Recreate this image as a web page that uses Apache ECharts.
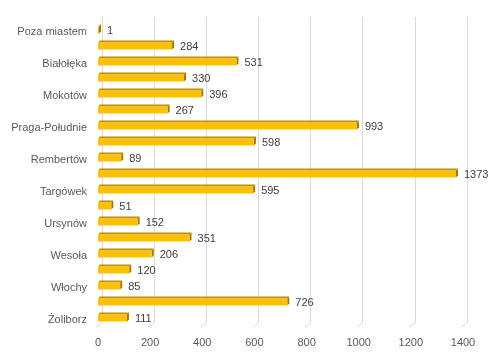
<!DOCTYPE html>
<html><head><meta charset="utf-8">
<script src="https://cdn.jsdelivr.net/npm/echarts@6/dist/echarts.min.js"></script>
<style>html,body{margin:0;padding:0;background:#fff}#c{width:498px;height:360px}</style>
</head><body><div id="c"></div>
<script>
const categories = ['Poza miastem','Bemowo','Białołęka','Bielany','Mokotów','Ochota','Praga-Południe','Praga-Północ','Rembertów','Śródmieście','Targówek','Ursus','Ursynów','Wawer','Wesoła','Wilanów','Włochy','Wola','Żoliborz'];
const values = [1,284,531,330,396,267,993,598,89,1373,595,51,152,351,206,120,85,726,111];
const tickValues = [0,200,400,600,800,1000,1200,1400];

const FONT = 'Liberation Sans, Arial, sans-serif';
const chart = echarts.init(document.getElementById('c'));

function renderBar(params, api) {
  const v = api.value(0), i = api.value(1);
  const s = api.coord([0, i]);
  const e = api.coord([v, i]);
  const h = 7, d = 2;
  const y0 = s[1] - h / 2 + 1;
  const x0 = s[0], x1 = Math.max(e[0], x0 + 1);
  return {
    type: 'group',
    children: [
      { type: 'polygon', shape: { points: [[x0, y0], [x0 + d, y0 - d], [x1 + d, y0 - d], [x1, y0]] }, style: { fill: '#BF9000' } },
      { type: 'polygon', shape: { points: [[x1, y0], [x1 + d, y0 - d], [x1 + d, y0 + h - d], [x1, y0 + h]] }, style: { fill: '#9C7A00' } },
      { type: 'rect', shape: { x: x0, y: y0, width: x1 - x0, height: h }, style: { fill: '#FFC000' } },
      { type: 'text', style: { x: x1 + d + 6, y: y0 + h / 2 + 1, text: String(v), fill: '#404040', font: '11px ' + FONT, verticalAlign: 'middle', align: 'left' } }
    ]
  };
}

function renderFloor(params, api) {
  const v = api.value(0);
  const p = api.coord([v, categories.length - 1]);
  const bottom = params.coordSys.y + params.coordSys.height;
  return { type: 'line', shape: { x1: p[0] + 4, y1: bottom - 2, x2: p[0] - 2, y2: bottom + 2 }, style: { stroke: '#D9D9D9', lineWidth: 1 } };
}

chart.setOption({
  animation: false,
  grid: [
    { left: 98, top: 21, width: 365, height: 304 },
    { left: 102, top: 17, width: 365, height: 306 }
  ],
  xAxis: [
    { gridIndex: 0, type: 'value', min: 0, max: 1400, interval: 200,
      axisLine: { show: false }, axisTick: { show: false }, splitLine: { show: false },
      axisLabel: { color: '#595959', fontSize: 11, fontFamily: FONT, margin: 12, formatter: v => String(v) } },
    { gridIndex: 1, type: 'value', min: 0, max: 1400, interval: 200,
      axisLine: { show: false }, axisTick: { show: false }, axisLabel: { show: false },
      splitLine: { show: true, lineStyle: { color: '#D9D9D9', width: 1 } } }
  ],
  yAxis: [
    { gridIndex: 0, type: 'category', data: categories, inverse: true,
      axisLine: { show: false }, axisTick: { show: false },
      axisLabel: { interval: 1, margin: 11, formatter: v => '{a|' + v + '}',
        rich: { a: { color: '#595959', fontSize: 11, fontFamily: FONT, padding: [5, 0, 0, 0] } } } },
    { gridIndex: 1, type: 'category', data: categories, inverse: true, show: false }
  ],
  series: [
    { type: 'custom', xAxisIndex: 0, yAxisIndex: 0, renderItem: renderFloor, data: tickValues.map(v => [v]), silent: true, z: 1 },
    { type: 'custom', xAxisIndex: 0, yAxisIndex: 0, renderItem: renderBar, data: values.map((v, i) => [v, i]), encode: { x: 0, y: 1 }, z: 3 }
  ]
});
</script></body></html>
